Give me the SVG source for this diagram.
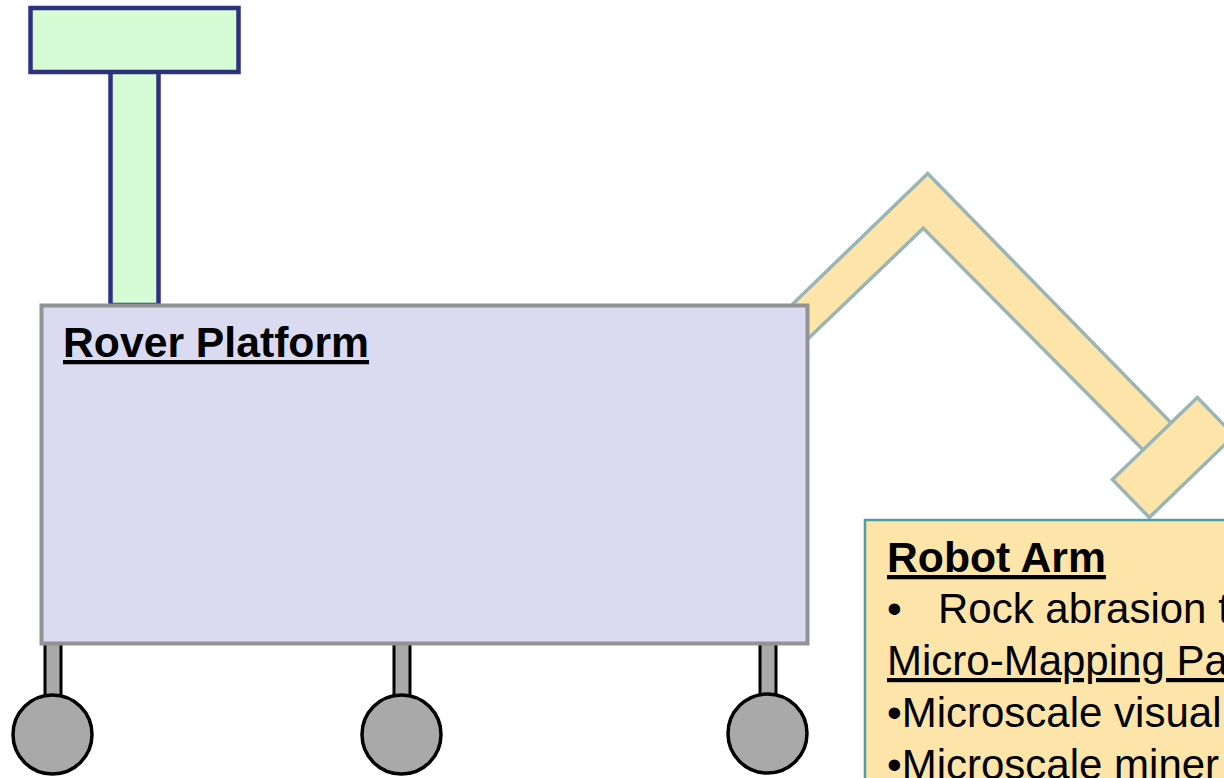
<svg xmlns="http://www.w3.org/2000/svg" width="1224" height="778" viewBox="0 0 1224 778">
  <style>
    .mast { fill: #d5fcd5; stroke: #2e327e; stroke-width: 4.5; }
    .arm { fill: #fde5a9; stroke: #9bb5b7; stroke-width: 3.5; stroke-linejoin: miter; }
    .platform { fill: #dadaf1; stroke: #939393; stroke-width: 4; }
    .stem { fill: #a9a9a9; stroke: #000; stroke-width: 3; }
    .wheel { fill: #a9a9a9; stroke: #000; stroke-width: 3.5; }
    .box { fill: #fde5a9; stroke: #4f9ea0; stroke-width: 2.5; }
    .title { font-family: "Liberation Sans", Arial, sans-serif; font-weight: bold; font-size: 42.7px; fill: #000; text-decoration: underline; }
    .body { font-family: "Liberation Sans", Arial, sans-serif; font-size: 42px; fill: #000; }
  </style>
  <rect width="1224" height="778" fill="#fff"/>

  <g id="robot-arm">
    <polygon class="arm" points="770,326 927.7,173.5 1185,437 1160,467 923.3,228.3 790,356"/>
    <rect class="arm" x="-59" y="-26.5" width="118" height="53" transform="translate(1173.3 457.5) rotate(-44)"/>
  </g>

  <g id="mast">
    <rect class="mast" x="110.5" y="60" width="48" height="245"/>
    <rect class="mast" x="30.5" y="8" width="208" height="64"/>
  </g>

  <g id="wheels">
    <rect class="stem" x="45" y="630" width="16" height="66"/>
    <rect class="stem" x="394" y="630" width="16" height="66"/>
    <rect class="stem" x="760" y="630" width="16" height="66"/>
    <circle class="wheel" cx="52.5" cy="734.5" r="39.5"/>
    <circle class="wheel" cx="401.5" cy="734.5" r="39.5"/>
    <circle class="wheel" cx="767.5" cy="733.5" r="39.5"/>
  </g>

  <g id="rover-platform">
    <rect class="platform" x="41.5" y="305.5" width="766" height="338"/>
    <text class="title" x="63" y="357">Rover Platform</text>
  </g>

  <g id="robot-arm-box">
    <rect class="box" x="865" y="520" width="400" height="300"/>
    <text class="title" x="887" y="572">Robot Arm</text>
    <text class="body" y="623"><tspan x="887">•</tspan><tspan x="938">Rock abrasion t</tspan></text>
    <text class="body" x="887" y="675" text-decoration="underline">Micro-Mapping Pa</text>
    <text class="body" x="887" y="727">•Microscale visual</text>
    <text class="body" x="887" y="779">•Microscale miner</text>
  </g>
</svg>
